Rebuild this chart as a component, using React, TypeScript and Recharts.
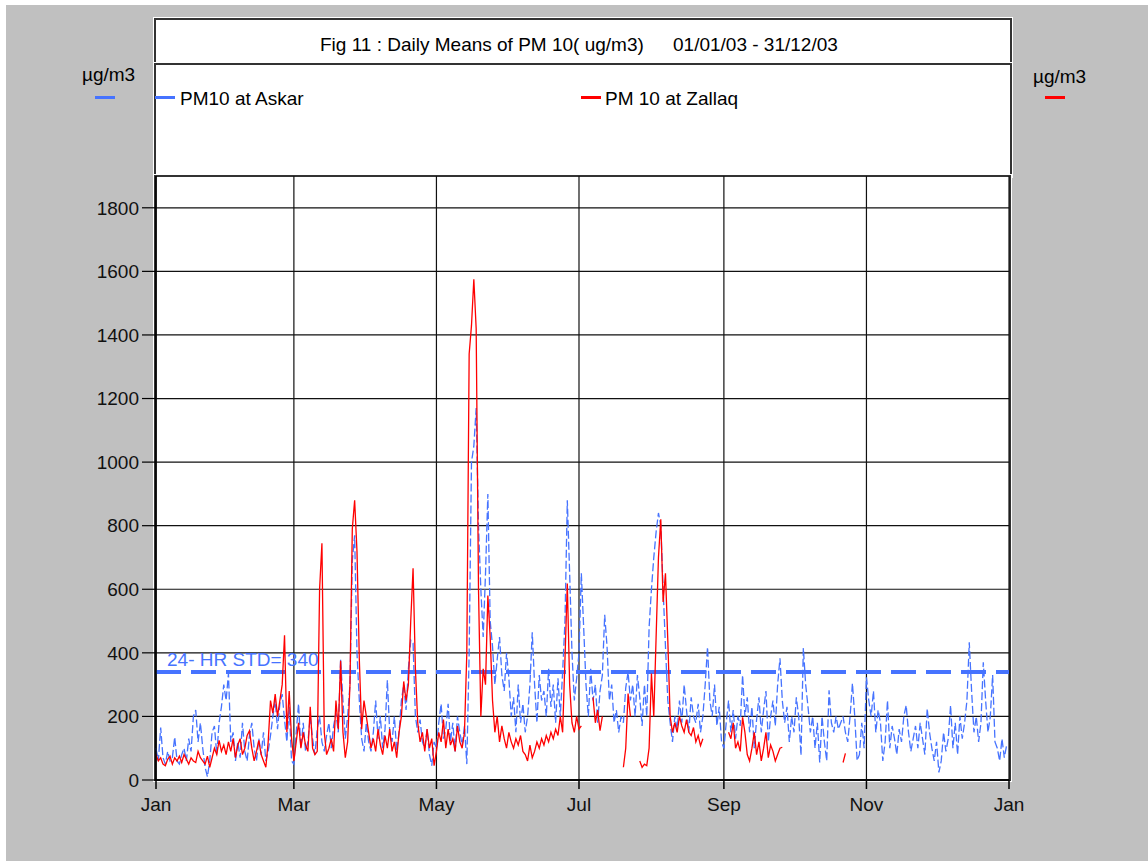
import React from 'react';
import { LineChart, Line, XAxis, YAxis, CartesianGrid, ReferenceLine } from 'recharts';

// ---- Data (daily means, ug/m3), day index 0 = 01/01/03 ----
const askarJan = [100, 60, 165, 70, 50, 90, 60, 70, 135, 60, 50, 80, 100, 60, 130, 90, 200, 220, 120, 180, 100, 40, 10, 60, 150, 170, 80, 180, 230, 300, 250];
const askarFeb = [335, 120, 150, 60, 120, 70, 180, 90, 60, 140, 180, 100, 60, 130, 80, 150, 60, 90, 140, 200, 250, 160, 240, 270, 190, 120, 230, 60];
const askarMar = [50, 150, 240, 100, 180, 90, 120, 200, 130, 80, 160, 200, 120, 90, 140, 180, 100, 170, 210, 150, 380, 250, 130, 200, 300, 690, 770, 400, 250, 130, 90];
const askarApr = [180, 120, 90, 150, 250, 130, 200, 100, 160, 314, 150, 120, 200, 90, 150, 250, 300, 220, 350, 440, 430, 200, 150, 190, 120, 100, 160, 80, 45, 120];
const askarMay = [100, 180, 240, 130, 160, 240, 120, 180, 90, 200, 150, 110, 170, 50, 400, 1000, 1050, 1170, 800, 600, 450, 650, 900, 500, 420, 300, 380, 450, 330, 280, 400];
const askarJun = [320, 200, 260, 150, 300, 180, 240, 150, 200, 300, 465, 300, 180, 330, 250, 280, 200, 350, 230, 300, 180, 320, 200, 340, 500, 880, 650, 400, 250, 320];
const askarJul = [400, 650, 480, 300, 200, 350, 250, 300, 180, 280, 330, 520, 420, 250, 300, 180, 220, 150, 200, 180, 290, 340, 250, 300, 200, 330, 260, 170, 300, 200, 480];
const askarAug = [600, 700, 780, 840, 800, 600, 420, 250, 180, 120, 200, 160, 250, 180, 300, 220, 150, 260, 200, 180, 240, 150, 200, 300, 418, 250, 200, 300, 170, 230, 120];
const askarSep = [100, 180, 250, 150, 220, 130, 200, 170, 330, 200, 260, 150, 230, 100, 190, 260, 150, 220, 280, 120, 200, 250, 170, 300, 383, 250, 180, 230, 120, 200];
const askarOct = [150, 260, 200, 77, 415, 300, 230, 150, 200, 100, 180, 55, 200, 120, 60, 282, 180, 150, 200, 160, 180, 200, 150, 120, 200, 304, 200, 61, 80, 180, 100];
const askarNov = [323, 250, 200, 280, 150, 220, 180, 60, 120, 250, 100, 170, 130, 80, 160, 120, 200, 235, 150, 90, 130, 170, 100, 180, 130, 80, 225, 150, 100, 60];
const askarDec = [120, 24, 60, 150, 90, 130, 235, 100, 180, 80, 200, 130, 180, 250, 433, 280, 150, 200, 120, 180, 370, 250, 150, 200, 330, 120, 100, 60, 130, 70, 110];

const N = null;
const zallaqJan = [80, 60, 70, 50, 45, 65, 75, 50, 70, 60, 75, 55, 80, 65, 50, 70, 60, 55, 90, 70, 60, 50, 75, 40, 70, 100, 80, 125, 90, 110, 80];
const zallaqFeb = [120, 90, 130, 70, 110, 130, 80, 100, 140, 155, 100, 60, 90, 125, 80, 60, 40, 120, 250, 210, 270, 200, 250, 300, 455, 150, 280, 130];
const zallaqMar = [60, 120, 180, 100, 150, 110, 90, 230, 100, 80, 90, 600, 745, 150, 80, 100, 130, 90, 250, 160, 375, 150, 70, 120, 300, 790, 880, 720, 380, 160, 250];
const zallaqApr = [200, 150, 100, 130, 90, 160, 110, 80, 140, 100, 160, 90, 120, 70, 150, 200, 310, 250, 300, 500, 666, 350, 180, 120, 150, 90, 160, 100, 130, 45];
const zallaqMay = [90, 150, 120, 190, 100, 160, 110, 130, 90, 170, 120, 100, 150, 400, 1340, 1430, 1575, 1420, 600, 200, 350, 300, 580, 450, 250, 150, 200, 120, 170, 130, 100];
const zallaqJun = [150, 120, 100, 130, 110, 140, 90, 80, 60, 110, 70, 90, 120, 100, 130, 110, 140, 120, 150, 130, 160, 140, 200, 150, 380, 618, 300, 180, 150, 200];
const zallaqJul = [160, 170, N, N, N, N, 260, 180, 220, 155, 200, N, N, N, N, N, N, N, N, 40, 100, 272, 200, N, N, N, 60, 40, 50, 45, 100];
const zallaqAug = [335, 200, 450, 700, 820, 560, 650, 440, 200, 150, 180, 150, 200, 170, 150, 190, 150, 140, 165, 120, 140, 108, 130, N, N, N, N, N, N, N, N];
const zallaqSep = [N, N, 150, 130, 180, 100, 120, 90, 197, 150, 80, 60, 100, 150, 80, 120, 60, 100, 150, 70, 110, 90, 60, 80, 100, 103, N, N, N, N];
const zallaqOct = [N, N, N, N, N, N, N, N, N, N, N, N, N, N, N, N, N, N, N, N, N, 55, 84, N, N, N, N, N, N, N, N];
const zallaqNov = new Array(30).fill(null);
const zallaqDec = new Array(31).fill(null);

const askar = [...askarJan, ...askarFeb, ...askarMar, ...askarApr, ...askarMay, ...askarJun, ...askarJul, ...askarAug, ...askarSep, ...askarOct, ...askarNov, ...askarDec];
const zallaq = [...zallaqJan, ...zallaqFeb, ...zallaqMar, ...zallaqApr, ...zallaqMay, ...zallaqJun, ...zallaqJul, ...zallaqAug, ...zallaqSep, ...zallaqOct, ...zallaqNov, ...zallaqDec];

const xTickDays = [0, 59, 120, 181, 243, 304, 365];
const xTickLabels = ['Jan', 'Mar', 'May', 'Jul', 'Sep', 'Nov', 'Jan'];
const yTicks = [0, 200, 400, 600, 800, 1000, 1200, 1400, 1600, 1800];
const standardValue = 340;

const data = askar.map((v, i) => ({ day: i, askar: v, zallaq: zallaq[i] }));

const BLUE = '#4673ff';
const RED = '#ff0000';
const FONT = '"Liberation Sans", Arial, sans-serif';
const FS = 19;

const boxStyle = (left: number, top: number, width: number, height: number): React.CSSProperties => ({
  position: 'absolute',
  left,
  top,
  width,
  height,
  background: '#fff',
  border: '2px solid #333',
  outline: '1px solid #fff',
  boxSizing: 'border-box',
});

const textStyle = (left: number, top: number): React.CSSProperties => ({
  position: 'absolute',
  left,
  top,
  fontSize: FS,
  lineHeight: '22px',
  color: '#000',
  whiteSpace: 'pre',
});

export default function App() {
  const labelFn = (props: any) => {
    const vb = props.viewBox || {};
    return (
      <text x={(vb.x || 0) + 11} y={(vb.y || 0) - 6} fill={BLUE} fontSize={FS} fontFamily={FONT}>
        24- HR STD= 340
      </text>
    );
  };
  return (
    <div style={{ position: 'absolute', left: 0, top: 0, width: 1148, height: 861, fontFamily: FONT }}>
      <div style={{ position: 'absolute', left: 6, top: 5, width: 1142, height: 856, background: '#c0c0c0' }} />
      <div style={boxStyle(154, 18, 858, 46)} />
      <div style={boxStyle(154, 63, 858, 114)} />
      <div style={boxStyle(154, 175, 857, 606)} />

      <div style={textStyle(320, 34)}>Fig 11 : Daily Means of PM 10( ug/m3)</div>
      <div style={textStyle(673, 34)}>01/01/03 - 31/12/03</div>

      <div style={{ position: 'absolute', left: 155, top: 96, width: 20, height: 3, background: BLUE }} />
      <div style={textStyle(180, 88)}>PM10 at Askar</div>
      <div style={{ position: 'absolute', left: 581, top: 96, width: 20, height: 3, background: RED }} />
      <div style={textStyle(605, 88)}>PM 10 at Zallaq</div>

      <div style={textStyle(82, 64)}>µg/m3</div>
      <div style={{ position: 'absolute', left: 95, top: 96, width: 20, height: 3, background: BLUE }} />
      <div style={textStyle(1033, 66)}>µg/m3</div>
      <div style={{ position: 'absolute', left: 1045, top: 96, width: 20, height: 3, background: RED }} />

      <div style={{ position: 'absolute', left: 0, top: 0 }}>
        <LineChart
          width={1148}
          height={861}
          data={data}
          margin={{ top: 176, right: 139, bottom: 51, left: 96 }}
          style={{ fontFamily: FONT }}
        >
          <CartesianGrid stroke="#111" strokeWidth={1.2} horizontalValues={yTicks} verticalValues={xTickDays} />
          <XAxis
            dataKey="day"
            type="number"
            domain={[0, 365]}
            ticks={xTickDays}
            interval={0}
            tickFormatter={(v: number) => xTickLabels[xTickDays.indexOf(v)] ?? ''}
            height={30}
            tickSize={9}
            tickMargin={9}
            axisLine={{ stroke: '#000', strokeWidth: 1.5 }}
            tickLine={{ stroke: '#000', strokeWidth: 1.5 }}
            tick={{ fill: '#111', fontSize: FS, fontFamily: FONT }}
          />
          <YAxis
            type="number"
            domain={[0, 1900]}
            ticks={yTicks}
            interval={0}
            width={60}
            tickSize={14}
            tickMargin={3}
            axisLine={{ stroke: '#000', strokeWidth: 1.5 }}
            tickLine={{ stroke: '#000', strokeWidth: 1.2 }}
            tick={{ fill: '#111', fontSize: FS, fontFamily: FONT }}
          />
          <ReferenceLine
            y={standardValue}
            stroke={BLUE}
            strokeWidth={4}
            strokeDasharray="25 10"
            label={labelFn}
          />
          <Line
            type="linear"
            dataKey="askar"
            stroke={BLUE}
            strokeWidth={1.3}
            strokeDasharray="8 3"
            dot={false}
            isAnimationActive={false}
          />
          <Line
            type="linear"
            dataKey="zallaq"
            stroke={RED}
            strokeWidth={1.3}
            dot={false}
            connectNulls={false}
            isAnimationActive={false}
          />
        </LineChart>
      </div>
    </div>
  );
}
